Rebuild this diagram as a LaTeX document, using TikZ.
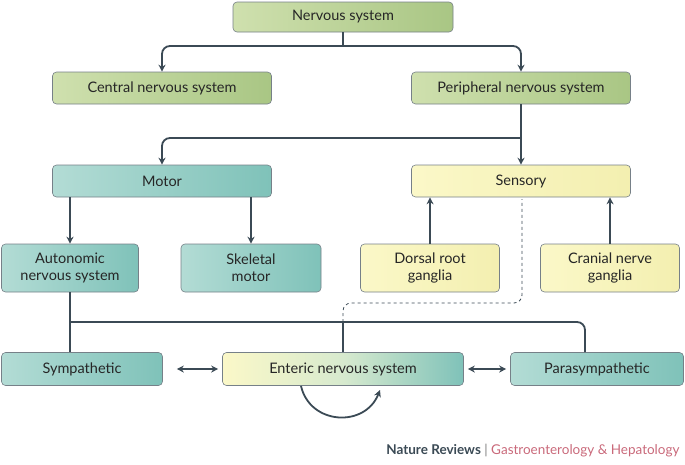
\documentclass[tikz,border=0pt]{standalone}
\usepackage{fontspec}
\setmainfont{Lato}
\usetikzlibrary{arrows.meta}
\definecolor{ln}{HTML}{3B4A55}
\definecolor{gA}{HTML}{CFE0AE}\definecolor{gB}{HTML}{A9C684}
\definecolor{tA}{HTML}{B3DCD5}\definecolor{tB}{HTML}{7FC2B9}
\definecolor{yA}{HTML}{FBF8C8}\definecolor{yB}{HTML}{F3EFB0}
\definecolor{pink}{HTML}{C9697A}
\begin{document}
\begin{tikzpicture}[x=1pt,y=-1pt,
 box/.style={draw=ln!70,line width=0.6pt,rounded corners=4pt,align=center,font=\fontsize{14.5}{17}\selectfont,text=black!85,inner sep=0pt},
 gr/.style={box,left color=gA,right color=gB,minimum width=219pt,minimum height=32pt},
 te/.style={box,left color=tA,right color=tB},
 ye/.style={box,left color=yA,right color=yB},
 con/.style={draw=ln,line width=1.8pt,rounded corners=8pt},
 arr/.style={con,-{Stealth[length=7pt,width=7pt]}},
 darr/.style={con,{Stealth[length=7pt,width=7pt]}-{Stealth[length=7pt,width=7pt]}}]
\useasboundingbox (0,0) rectangle (685,464);
\node[gr] (ns) at (343,17) [minimum height=30pt,minimum width=220pt] {Nervous system};
\node[gr] (cns) at (162,88) {Central nervous system};
\node[gr] (pns) at (521,88) {Peripheral nervous system};
\node[te,minimum width=219pt,minimum height=32pt] (mot) at (162,181) {Motor};
\node[ye,minimum width=219pt,minimum height=32pt] (sen) at (521,181) {Sensory};
\node[te,minimum width=137pt,minimum height=48pt] (aut) at (70,268) {Autonomic\\nervous system};
\node[te,minimum width=140pt,minimum height=48pt] (ske) at (251,268) {Skeletal\\motor};
\node[ye,minimum width=139pt,minimum height=48pt] (dor) at (430,268) {Dorsal root\\ganglia};
\node[ye,minimum width=139pt,minimum height=48pt] (cra) at (610,268) {Cranial nerve\\ganglia};
\node[te,minimum width=161pt,minimum height=33pt] (sym) at (82,369) {Sympathetic};
\node[box,left color=yA,right color=tB,middle color=yA!50!tA,minimum width=241pt,minimum height=33pt] (ent) at (343,369) {Enteric nervous system};
\node[te,minimum width=173pt,minimum height=33pt] (par) at (597,369) {Parasympathetic};
\coordinate (bl) at (70,322);
\draw[con] (ns.south) -- (343,46);
\draw[arr] (343,46) -| (cns.north);
\draw[arr] (343,46) -| (pns.north);
\draw[arr] (pns.south) -- (sen.north);
\draw[arr] (521,138) -| (mot.north);
\draw[arr] (aut.north |- mot.south) -- (aut.north);
\draw[arr] (ske.north |- mot.south) -- (ske.north);
\draw[arr] (dor.north) -- (dor.north |- sen.south);
\draw[arr] (cra.north) -- (cra.north |- sen.south);
\draw[con,rounded corners=0pt] (aut.south) -- (aut.south |- sym.north);
\draw[con] (bl) -- (585,322) -- (585,352);
\draw[con,rounded corners=0pt] (343,322) -- (ent.north);
\draw[ln,line width=0.8pt,dashed,rounded corners=8pt] (343,322) -- (343,303) -- (522,303) -- (522,199);
\draw[darr] (sym.east) ++(14,0) -- ([xshift=-4pt]ent.west);
\draw[darr] ([xshift=4pt]ent.east) -- ([xshift=-4pt]par.west);
\draw[arr] (301,386) .. controls (310,425) and (365,428) .. (380,390);
\node[anchor=east,font=\fontsize{13.5}{14}\selectfont] (ft) at (683,451) {\textcolor{ln}{\bfseries Nature Reviews} \textcolor{black!50}{|} \textcolor{pink}{Gastroenterology \& Hepatology}};
\end{tikzpicture}
\end{document}
